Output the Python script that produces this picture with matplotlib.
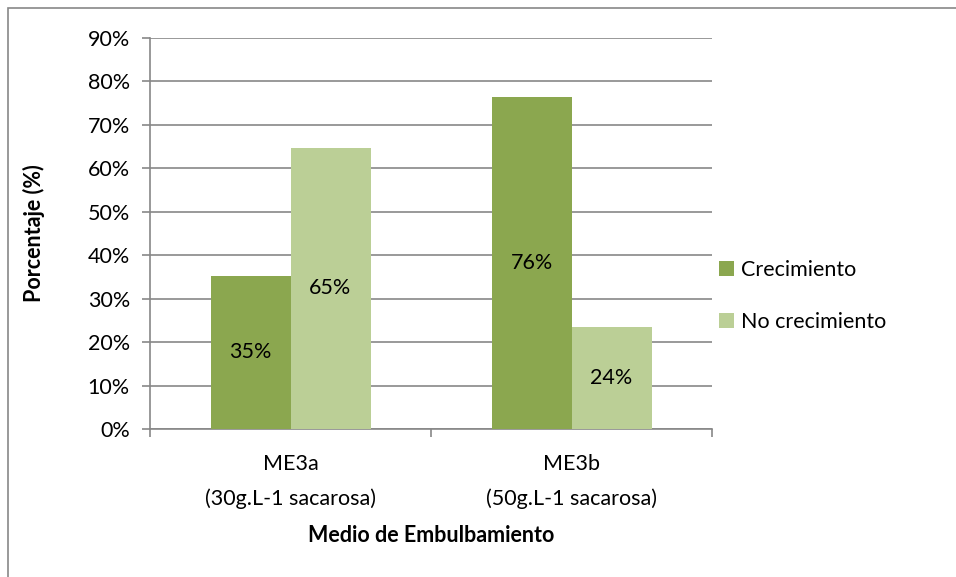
import numpy as np
import matplotlib.pyplot as plt
from matplotlib.patches import Rectangle
from matplotlib.ticker import PercentFormatter

# Data
categories = ["ME3a\n(30g.L-1 sacarosa)", "ME3b\n(50g.L-1 sacarosa)"]
series_names = ["Crecimiento", "No crecimiento"]
crecimiento = [35.29, 76.47]
no_crecimiento = [64.71, 23.53]
colors = ["#8BA74F", "#BBCF96"]

plt.rcParams['font.family'] = ['Lato', 'DejaVu Sans']
fs = 15.5

W, H = 956, 577
fig = plt.figure(figsize=(W / 100, H / 100), dpi=100)
ax = fig.add_axes([150 / W, 1 - 429 / H, (712 - 150) / W, (429 - 38) / H])

# outer chart border (only top/left visible in the reference)
fig.patches.append(Rectangle((8 / W, -0.1), 1.2, 1 - 8 / H + 0.1, transform=fig.transFigure,
                             fill=False, edgecolor="#878787", linewidth=1.2))

x = np.arange(len(categories))
width = 80 / 281
for i, (vals, name) in enumerate(zip([crecimiento, no_crecimiento], series_names)):
    pos = x + (i - 0.5) * width
    bars = ax.bar(pos, vals, width, color=colors[i], label=name, zorder=3)
    for b, v in zip(bars, vals):
        ax.text(b.get_x() + b.get_width() / 2, v / 2, f"{v:.0f}%",
                ha="center", va="center", fontsize=fs, color="black", zorder=4)

ax.set_xlim(-0.5, 1.5)
ax.set_ylim(0, 90)
ax.set_yticks(np.arange(0, 91, 10))
ax.yaxis.set_major_formatter(PercentFormatter(decimals=0))
ax.grid(axis="y", color="#878787", linewidth=1.2, zorder=0)

# category ticks at the borders between groups
ax.set_xticks([-0.5, 0.5, 1.5])
ax.set_xticklabels([])
ax.set_xticks(x, minor=True)
ax.set_xticklabels(categories, minor=True, fontsize=fs, linespacing=1.85)
ax.tick_params(axis="x", which="minor", length=0, pad=18)
ax.tick_params(axis="x", which="major", length=6, color="#878787", width=1.2, direction="out")
ax.tick_params(axis="y", length=6, color="#878787", width=1.2, labelsize=fs, pad=8.5)

for s in ["top", "right"]:
    ax.spines[s].set_visible(False)
for s in ["left", "bottom"]:
    ax.spines[s].set_color("#878787")
    ax.spines[s].set_linewidth(1.2)

ax.set_ylabel("Porcentaje (%)", fontsize=fs, fontweight="bold", labelpad=31)
ax.set_xlabel("Medio de Embulbamiento", fontsize=fs, fontweight="bold", labelpad=12)

ax.legend(loc="center left", bbox_to_anchor=(0.986, 0.34), frameon=False, fontsize=fs,
          handlelength=0.7, handleheight=0.7, handletextpad=0.3, labelspacing=1.45,
          borderaxespad=0.3)

fig.savefig("out.png", dpi=100)
